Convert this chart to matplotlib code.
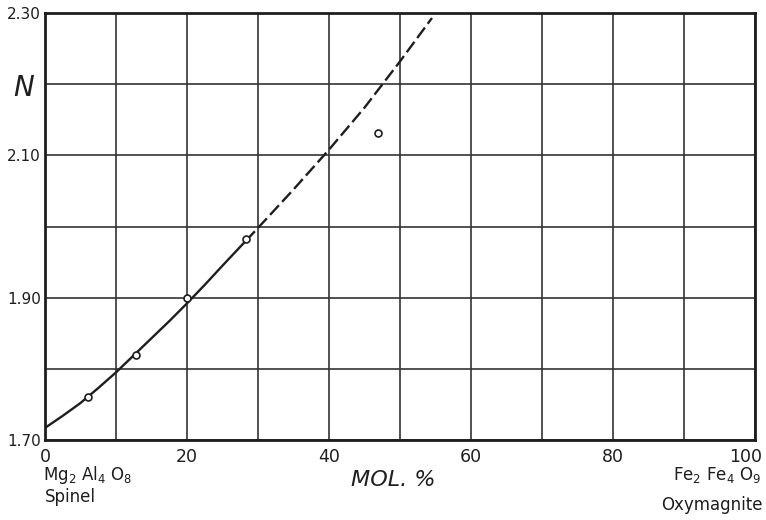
import matplotlib

matplotlib.use("Agg")
import matplotlib.pyplot as plt  # noqa: E402
from matplotlib.transforms import ScaledTranslation  # noqa: E402

# measured points (mol. % Fe2Fe4O9, refractive index N)
point_mol = [6.1, 12.8, 20.0, 28.3, 46.9]
point_n = [1.760, 1.819, 1.900, 1.982, 2.131]

# smooth curve: solid part, then dashed extrapolation
solid_mol = [0, 2.5, 5, 7.5, 10, 12.5, 15, 17.5, 20, 22.5, 25, 28.3]
solid_n = [1.717, 1.734, 1.752, 1.773, 1.795, 1.819, 1.843, 1.867, 1.892, 1.918, 1.945, 1.980]
dashed_mol = [28.3, 30, 35, 40, 45, 50, 54.5]
dashed_n = [1.980, 1.998, 2.052, 2.108, 2.167, 2.232, 2.293]

y_labels = [1.70, 1.90, 2.10, 2.30]
x_labels = [0, 20, 40, 60, 80, 100]
x_grid = [10, 30, 50, 70, 90]
y_grid = [1.80, 2.00, 2.20]

INK = "#1e1e1e"

fig = plt.figure(figsize=(7.66, 5.20), dpi=100)
ax = fig.add_axes([45 / 766, 80 / 520, 710 / 766, 427 / 520])

ax.plot(solid_mol, solid_n, color=INK, linewidth=1.7, solid_capstyle="round")
ax.plot(dashed_mol, dashed_n, color=INK, linewidth=1.7, dashes=(5.5, 2.0))
ax.plot(point_mol, point_n, linestyle="none", marker="o", markersize=5,
        markerfacecolor="white", markeredgecolor=INK, markeredgewidth=1.2, zorder=5)

ax.set_xlim(0, 100)
ax.set_ylim(1.70, 2.30)
ax.set_xticks(x_labels)
ax.set_xticks(x_grid, minor=True)
ax.set_xticklabels([str(v) for v in x_labels], fontsize=12.5, color=INK)
ax.set_yticks(y_labels)
ax.set_yticks(y_grid, minor=True)
ax.set_yticklabels([f"{v:.2f}" for v in y_labels], fontsize=11, color=INK)
ax.tick_params(which="both", length=0)
ax.tick_params(axis="x", pad=6)
ax.tick_params(axis="y", pad=3)
ax.grid(which="both", color="#333333", linewidth=1.2)
for spine in ax.spines.values():
    spine.set_color(INK)
    spine.set_linewidth(2.0)

# the "100" label sits just inside the right edge, as in the original
last = ax.get_xticklabels()[-1]
last.set_horizontalalignment("right")
last.set_transform(last.get_transform() + ScaledTranslation(7 / 100, 0, fig.dpi_scale_trans))

fig.text(24 / 766, 1 - 88 / 520, "N", fontsize=20, style="italic", color=INK,
         ha="center", va="center")
fig.text(393 / 766, 1 - 480 / 520, "MOL. %", fontsize=16, style="italic", color=INK,
         ha="center", va="center")
fig.text(43 / 766, 1 - 475 / 520, r"Mg$_2$ Al$_4$ O$_8$", fontsize=12, color=INK,
         ha="left", va="center")
fig.text(45 / 766, 1 - 497 / 520, "Spinel", fontsize=12, color=INK,
         ha="left", va="center")
fig.text(761 / 766, 1 - 475 / 520, r"Fe$_2$ Fe$_4$ O$_9$", fontsize=12, color=INK,
         ha="right", va="center")
fig.text(763 / 766, 1 - 505 / 520, "Oxymagnite", fontsize=12, color=INK,
         ha="right", va="center")

fig.savefig("out.png", dpi=100)
